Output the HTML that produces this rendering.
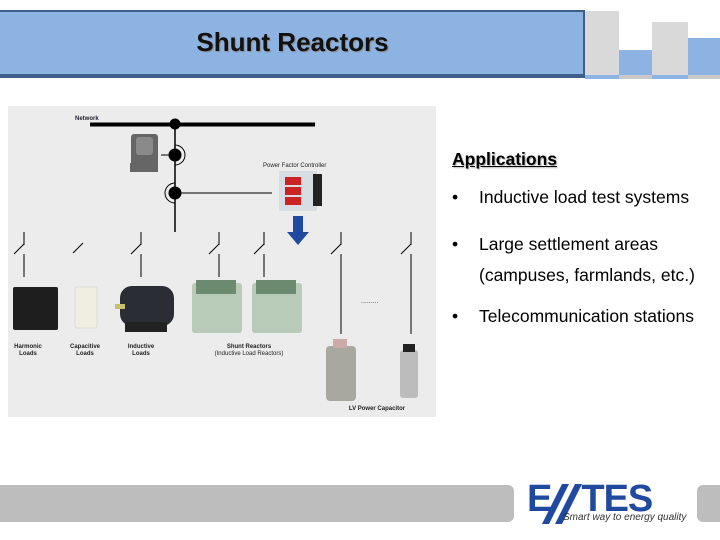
<!DOCTYPE html>
<html><head><meta charset="utf-8"><style>
body{margin:0;width:720px;height:540px;background:#fff;position:relative;overflow:hidden;font-family:"Liberation Sans",sans-serif}
.a{position:absolute}
</style></head><body>
<!-- header -->
<div class="a" style="left:0;top:10px;width:583px;height:62px;background:#8db3e2;border:2px solid #3e5f8a;border-left:none"></div>
<div class="a" style="left:0;top:75px;width:585px;height:3px;background:#3e5f8a"></div>
<div class="a" style="left:0;top:12px;width:585px;height:60px;text-align:center;line-height:60px;font-size:26px;font-weight:bold;color:#111;text-shadow:1px 1px 1px #888">Shunt Reactors</div>
<div class="a" style="left:585px;top:11px;width:34px;height:64px;background:#d9d9d9"></div>
<div class="a" style="left:619px;top:50px;width:33px;height:25px;background:#8db3e2"></div>
<div class="a" style="left:652px;top:22px;width:36px;height:53px;background:#d9d9d9"></div>
<div class="a" style="left:688px;top:38px;width:32px;height:37px;background:#8db3e2"></div>
<div class="a" style="left:585px;top:75px;width:34px;height:4px;background:#8db3e2"></div>
<div class="a" style="left:619px;top:75px;width:33px;height:4px;background:#c8c8c8"></div>
<div class="a" style="left:652px;top:75px;width:36px;height:4px;background:#8db3e2"></div>
<div class="a" style="left:688px;top:75px;width:32px;height:4px;background:#c8c8c8"></div>

<!-- diagram -->
<svg class="a" style="left:0;top:0" width="440" height="420" font-family="Liberation Sans" font-weight="bold">
<rect x="8" y="106" width="428" height="311" fill="#ececec"/>
<text x="75" y="120" font-size="6" fill="#223">Network</text>
<line x1="90" y1="124.5" x2="315" y2="124.5" stroke="#000" stroke-width="4"/>
<line x1="175" y1="124" x2="175" y2="232" stroke="#000" stroke-width="1.5"/>
<path d="M175 145 a10 10 0 0 1 0 20" fill="none" stroke="#000"/>
<path d="M175 183 a10 10 0 0 0 0 20" fill="none" stroke="#000"/>
<circle cx="175" cy="124" r="5.5"/><circle cx="175" cy="155" r="6.5"/><circle cx="175" cy="193" r="6.5"/>
<path d="M134 134 h21 q3 0 3 4 v25 h0 v9 h-28 v-9 h1 v-25 q0-4 3-4z" fill="#666"/>
<rect x="136" y="137" width="17" height="18" rx="3" fill="#8a8a8a"/>
<line x1="161" y1="155" x2="175" y2="155" stroke="#000"/>
<line x1="175" y1="193" x2="272" y2="193" stroke="#000"/>
<text x="263" y="167" font-size="6" font-weight="normal" fill="#222">Power Factor Controller</text>
<rect x="279" y="171" width="38" height="40" fill="#d8dde3"/>
<rect x="313" y="174" width="9" height="32" fill="#222"/>
<rect x="285" y="177" width="16" height="8" fill="#c22"/><rect x="285" y="187" width="16" height="8" fill="#c22"/><rect x="285" y="197" width="16" height="8" fill="#c22"/>
<polygon points="293,216 303,216 303,232 309,232 298,245 287,232 293,232" fill="#1f4aa0"/>
<g stroke="#000" stroke-width="1">
<line x1="24" y1="232" x2="24" y2="245"/><line x1="14" y1="254" x2="24" y2="244"/><line x1="24" y1="254" x2="24" y2="277"/>
<line x1="73" y1="253" x2="83" y2="243"/>
<line x1="141" y1="232" x2="141" y2="245"/><line x1="131" y1="254" x2="141" y2="244"/><line x1="141" y1="254" x2="141" y2="277"/>
<line x1="219" y1="232" x2="219" y2="245"/><line x1="209" y1="254" x2="219" y2="244"/><line x1="219" y1="254" x2="219" y2="277"/>
<line x1="264" y1="232" x2="264" y2="245"/><line x1="254" y1="254" x2="264" y2="244"/><line x1="264" y1="254" x2="264" y2="277"/>
<line x1="341" y1="232" x2="341" y2="245"/><line x1="331" y1="254" x2="341" y2="244"/><line x1="341" y1="254" x2="341" y2="334"/>
<line x1="411" y1="232" x2="411" y2="245"/><line x1="401" y1="254" x2="411" y2="244"/><line x1="411" y1="254" x2="411" y2="334"/>
</g>
<text x="361" y="303" font-size="7" font-weight="normal" fill="#333">.........</text>
<rect x="13" y="287" width="45" height="43" rx="2" fill="#1e1e1e"/>
<rect x="75" y="287" width="22" height="41" rx="2" fill="#f0eee0" stroke="#ccc" stroke-width="0.5"/>
<rect x="120" y="286" width="54" height="40" rx="12" fill="#2a2d33"/><rect x="125" y="322" width="42" height="10" fill="#222"/>
<rect x="115" y="304" width="10" height="5" fill="#c8c070"/>
<rect x="192" y="283" width="50" height="50" rx="3" fill="#b8cbb8"/><rect x="196" y="280" width="40" height="14" fill="#6b8a70"/>
<rect x="252" y="283" width="50" height="50" rx="3" fill="#b8cbb8"/><rect x="256" y="280" width="40" height="14" fill="#6b8a70"/>
<rect x="326" y="346" width="30" height="55" rx="4" fill="#a8a8a0"/><rect x="333" y="339" width="14" height="9" fill="#caa"/>
<rect x="400" y="350" width="18" height="48" rx="3" fill="#bcbcbc"/><rect x="403" y="344" width="12" height="8" fill="#222"/>
<g font-size="6" fill="#222" text-anchor="middle">
<text x="28" y="348">Harmonic</text><text x="28" y="355">Loads</text>
<text x="85" y="348">Capacitive</text><text x="85" y="355">Loads</text>
<text x="141" y="348">Inductive</text><text x="141" y="355">Loads</text>
<text x="249" y="348">Shunt Reactors</text><text x="249" y="355" font-weight="normal">(Inductive Load Reactors)</text>
<text x="377" y="410">LV Power Capacitor</text>
</g>
</svg>

<!-- text -->
<div class="a" style="left:452px;top:149px;font-size:17.5px;font-weight:bold;text-decoration:underline;color:#000;text-shadow:1px 1px 1px #aaa">Applications</div>
<div class="a" style="left:452px;top:187px;font-size:17.5px;color:#000;line-height:21px">
<div style="position:absolute;top:0;white-space:nowrap">•<span style="position:absolute;left:27px">Inductive load test systems</span></div>
<div style="position:absolute;top:47px;white-space:nowrap">•<span style="position:absolute;left:27px">Large settlement areas</span></div>
<div style="position:absolute;top:78px;left:27px;white-space:nowrap">(campuses, farmlands, etc.)</div>
<div style="position:absolute;top:119px;white-space:nowrap">•<span style="position:absolute;left:27px">Telecommunication stations</span></div>
</div>

<!-- footer -->
<div class="a" style="left:0;top:485px;width:514px;height:37px;background:#bdbdbd;border-radius:0 6px 6px 0"></div>
<div class="a" style="left:697px;top:485px;width:23px;height:37px;background:#bdbdbd;border-radius:6px 0 0 6px"></div>
<div class="a" style="left:527px;top:478px;font-size:38px;font-weight:bold;color:#1f4aa0;letter-spacing:-1px;white-space:nowrap">E<span style="display:inline-block;width:30px"></span>TES</div>
<svg class="a" style="left:540px;top:484px" width="60" height="42"><polygon points="22,0 29,0 9,40 2,40" fill="#1f4aa0"/><polygon points="35,0 42,0 22,40 15,40" fill="#1f4aa0"/></svg>
<div class="a" style="left:563px;top:512px;font-size:10px;color:#333;font-style:italic">Smart way to energy quality</div>
</body></html>
